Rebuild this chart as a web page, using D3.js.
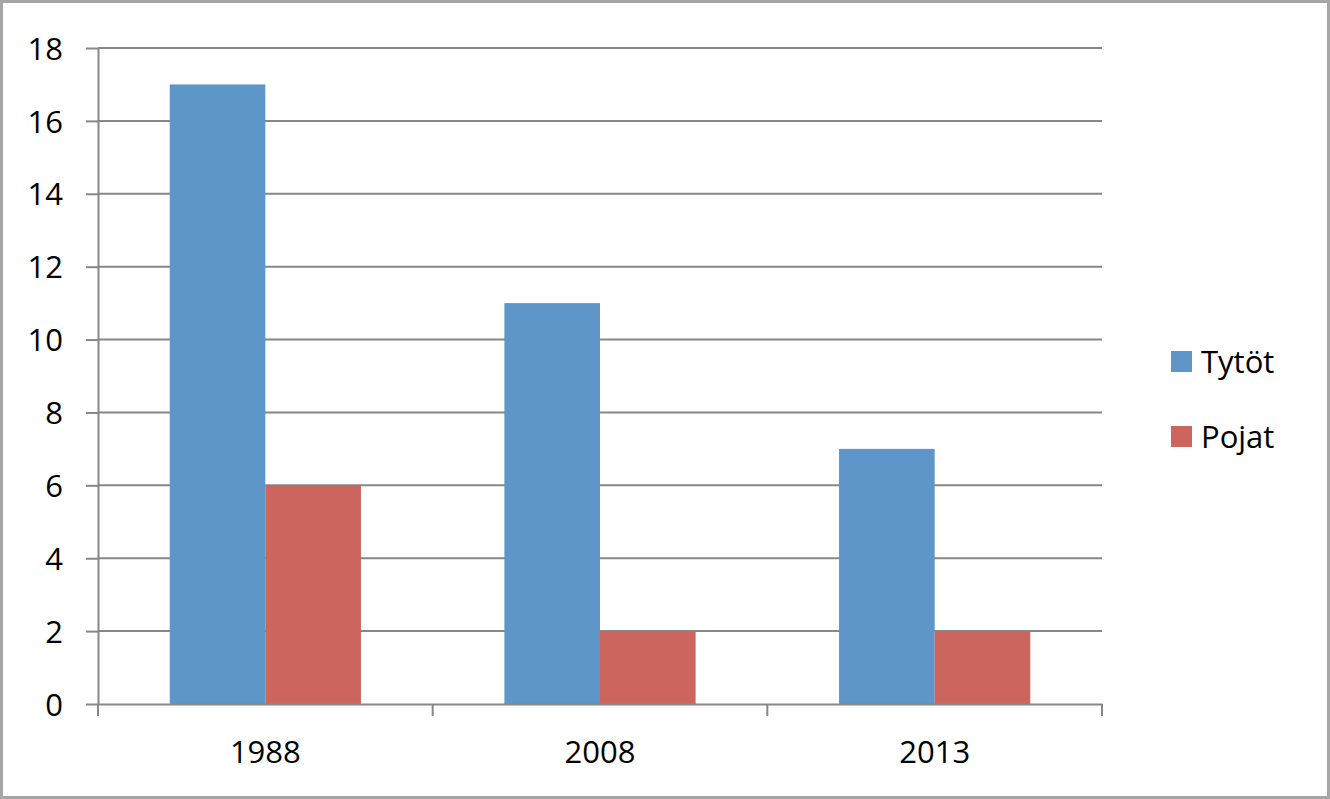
<!DOCTYPE html>
<html>
<head>
<meta charset="utf-8">
<script src="https://cdn.jsdelivr.net/npm/d3@7"></script>
<style>
  html, body { margin: 0; padding: 0; background: #fff; }
  svg { display: block; }
  text { font-family: "Open Sans", "Liberation Sans", sans-serif; fill: #000; }
</style>
</head>
<body>
<svg id="chart" width="1330" height="799"></svg>
<script>
const categories = ["1988", "2008", "2013"];
const seriesNames = ["Tytöt", "Pojat"];
const tytot = [17, 11, 7];
const pojat = [6, 2, 2];
const yTicks = [0, 2, 4, 6, 8, 10, 12, 14, 16, 18];
const colors = ["#5f96c9", "#cc655e"];

(function () {
const seriesValues = [tytot, pojat];
const svg = d3.select("#chart");
const W = 1330, H = 799;

// outer border
svg.append("rect")
  .attr("x", 1.5).attr("y", 1.5)
  .attr("width", W - 3).attr("height", H - 3)
  .attr("fill", "#fff")
  .attr("stroke", "#a6a6a6").attr("stroke-width", 3);

const pLeft = 98, pRight = 1102, pTop = 48, pBottom = 704;
const gridColor = "#878787";

const y = d3.scaleLinear().domain([0, 18]).range([pBottom, pTop]);
const x0 = d3.scaleBand().domain(categories).range([pLeft, pRight]).padding(0);
const bw = x0.bandwidth();
const off = bw * 0.75 / 3.5;
const x1 = d3.scaleBand().domain(seriesNames).range([off, bw - off]).padding(0);

// gridlines
svg.append("g").selectAll("line")
  .data(yTicks.filter(t => t !== 0))
  .join("line")
  .attr("x1", pLeft).attr("x2", pRight)
  .attr("y1", d => y(d)).attr("y2", d => y(d))
  .attr("stroke", gridColor).attr("stroke-width", 2);

// y axis
const yAxis = svg.append("g")
  .attr("transform", `translate(${pLeft},0)`)
  .call(d3.axisLeft(y).tickValues(yTicks).tickSize(12).tickPadding(23).tickSizeOuter(0));
yAxis.select(".domain").attr("stroke", gridColor).attr("stroke-width", 2);
yAxis.selectAll(".tick line").attr("stroke", gridColor).attr("stroke-width", 2);
yAxis.selectAll(".tick text")
  .style("font-family", '"Open Sans", "Liberation Sans", sans-serif')
  .style("font-size", "31px").attr("fill", "#000").attr("dy", "0.36em");

// bars
const groups = svg.append("g").selectAll("g")
  .data(categories)
  .join("g")
  .attr("transform", d => `translate(${x0(d)},0)`);
groups.selectAll("rect")
  .data((d, i) => seriesNames.map((s, j) => ({ s, j, v: seriesValues[j][i] })))
  .join("rect")
  .attr("x", d => x1(d.s))
  .attr("width", x1.bandwidth())
  .attr("y", d => y(d.v))
  .attr("height", d => y(0) - y(d.v))
  .attr("fill", d => colors[d.j]);

// x axis
const xAxis = svg.append("g")
  .attr("transform", `translate(0,${pBottom})`)
  .call(d3.axisBottom(x0).tickSize(0).tickPadding(48));
xAxis.select(".domain").attr("stroke", gridColor).attr("stroke-width", 2);
xAxis.selectAll(".tick text")
  .style("font-family", '"Open Sans", "Liberation Sans", sans-serif')
  .style("font-size", "31px").attr("fill", "#000").attr("dy", "0.36em")
  .attr("y", 48);
// category boundary ticks
const boundaries = categories.map(c => x0(c)).concat([pRight]);
svg.append("g").selectAll("line")
  .data(boundaries)
  .join("line")
  .attr("x1", d => d).attr("x2", d => d)
  .attr("y1", pBottom).attr("y2", pBottom + 12)
  .attr("stroke", gridColor).attr("stroke-width", 2);

// legend
const legend = svg.append("g").selectAll("g")
  .data(seriesNames)
  .join("g")
  .attr("transform", (d, i) => `translate(1171,${351 + i * 75})`);
legend.append("rect")
  .attr("width", 21).attr("height", 21)
  .attr("fill", (d, i) => colors[i]);
legend.append("text")
  .attr("x", 30).attr("y", 11).attr("dy", "0.36em")
  .style("font-size", "31px")
  .text(d => d);
})();
</script>
</body>
</html>
